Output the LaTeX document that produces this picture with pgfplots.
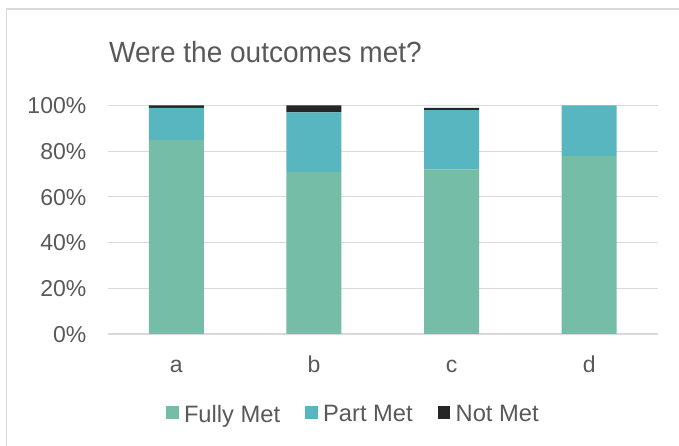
\documentclass[border=0pt]{standalone}
\usepackage{pgfplots}
\pgfplotsset{compat=1.18}
\usepackage{fontspec}
\setmainfont{Liberation Sans}
\newfontfamily\titlefont[FakeStretch=0.96]{Liberation Sans}
\definecolor{txt}{HTML}{595959}
\definecolor{gridc}{HTML}{D9D9D9}
\definecolor{fully}{HTML}{75BDA7}
\definecolor{part}{HTML}{58B6C0}
\definecolor{notm}{HTML}{262626}
\begin{document}
\begin{tikzpicture}
\useasboundingbox (0,0) rectangle (679bp,446bp);
\fill[white] (0,0) rectangle (679bp,446bp);
\draw[gridc, line width=1.2bp] (6.5bp,-20bp) -- (6.5bp,437bp) -- (700bp,437bp);
\node[anchor=base, text=txt, inner sep=0pt, font=\titlefont\fontsize{29.2bp}{33bp}\selectfont] at (265.5bp,383bp) {Were the outcomes met?};
\begin{axis}[
  at={(107.5bp,112bp)}, anchor=south west,
  scale only axis, width=550.5bp, height=228.5bp,
  ybar stacked, bar width=55bp,
  xmin=-0.5, xmax=3.5, ymin=0, ymax=100,
  xtick={0,1,2,3}, xticklabels={a,b,c,d},
  ytick={0,20,40,60,80,100},
  yticklabel={\pgfmathprintnumber{\tick}\%},
  /pgf/number format/assume math mode=true,
  major tick length=0pt,
  axis line style={draw=none},
  ymajorgrids, grid style={gridc, line width=1.2bp},
  tick label style={text=txt, font=\fontsize{23bp}{27bp}\selectfont, inner sep=0pt},
  yticklabel style={anchor=base east, xshift=-21bp, yshift=-8.2bp},
  xticklabel style={anchor=base, yshift=-38bp},
  legend columns=3,
  legend style={draw=none, fill=none, inner sep=0pt, outer sep=0pt,
    at={(0.1063,-0.3523)}, anchor=west,
    nodes={inner sep=0pt, text=txt, font=\fontsize{23.7bp}{27bp}\selectfont},
    column sep=5.3bp,
    /tikz/every even column/.append style={column sep=25bp}},
  legend image code/.code={\fill[#1] (0bp,-4.5bp) rectangle (12.7bp,8.2bp);},
]
\addplot[fill=fully, draw=none] coordinates {(0,85) (1,71) (2,72) (3,78)};
\addplot[fill=part, draw=none] coordinates {(0,14) (1,26) (2,26) (3,22)};
\addplot[fill=notm, draw=none] coordinates {(0,1) (1,3) (2,1) (3,0)};
\legend{Fully Met, Part Met, Not Met}
\end{axis}
\end{tikzpicture}
\end{document}
